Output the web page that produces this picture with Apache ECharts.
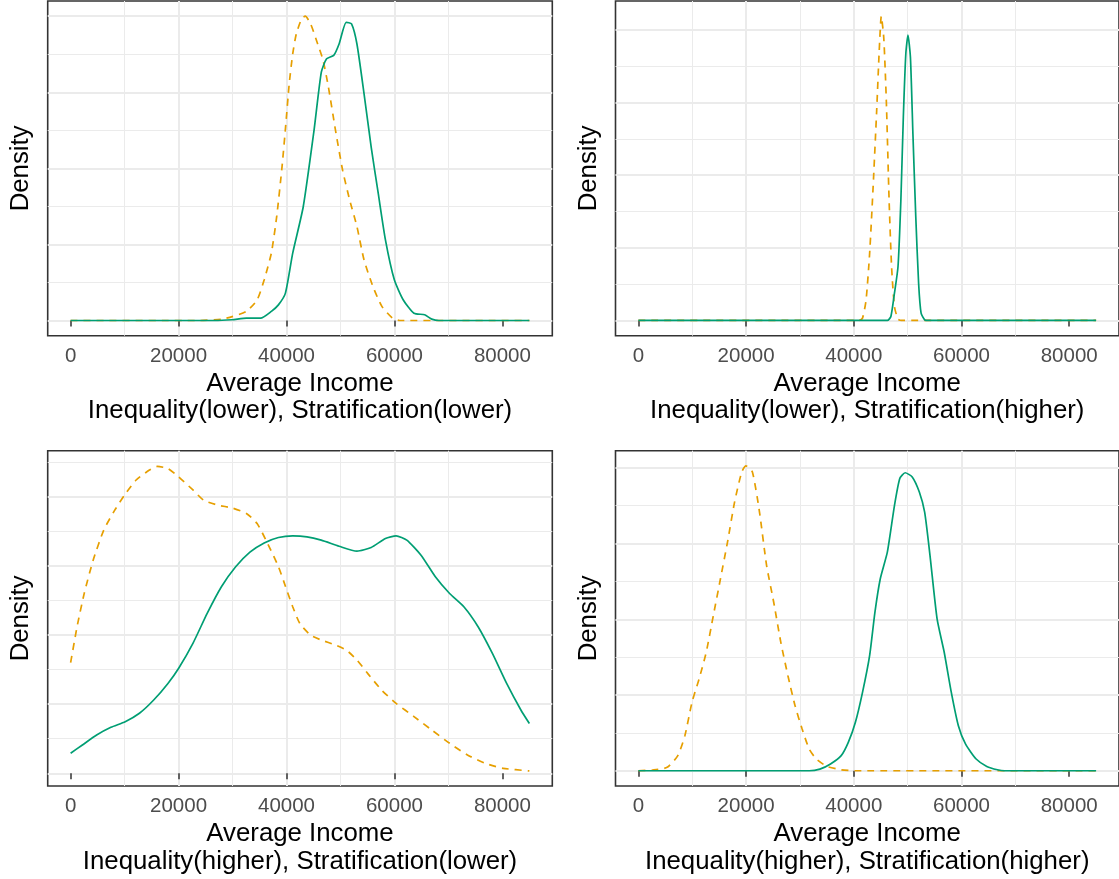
<!DOCTYPE html>
<html>
<head>
<meta charset="utf-8">
<script src="https://cdn.jsdelivr.net/npm/echarts@6/dist/echarts.min.js"></script>
<style>
  html, body { margin: 0; padding: 0; background: #fff; }
  #chart { width: 1119px; height: 879px; }
</style>
</head>
<body>
<div id="chart"></div>
<script>
// ---- data (density values in units of 1e-5) ----
const xTicks = [0, 20000, 40000, 60000, 80000];
const panelTitles = [
  'Inequality(lower), Stratification(lower)',
  'Inequality(lower), Stratification(higher)',
  'Inequality(higher), Stratification(lower)',
  'Inequality(higher), Stratification(higher)'
];
const yAxisName = 'Density';
const xAxisName = 'Average Income';

// panel 1
const p1Green = [[0,0],[26600,0],[29900,0.02],[32570,0.06],[35200,0.06],[37200,0.24],[38500,0.41],[39800,0.72],[41150,1.77],[43100,2.99],[45100,5.0],[46450,6.53],[47430,6.88],[48750,6.97],[49740,7.27],[51070,7.84],[52050,7.80],[53050,7.27],[54370,5.96],[55690,4.56],[57000,3.34],[58330,2.12],[59980,1.07],[61640,0.54],[63620,0.19],[65600,0.15],[66920,0.035],[68240,0],[85000,0]];
const p1Orange = [[0,0],[24000,0],[27940,0.035],[29930,0.1],[32570,0.24],[34550,0.54],[35870,1.07],[37190,1.77],[38180,2.73],[39170,4.04],[39830,5.09],[40500,6.22],[41150,7.01],[41810,7.53],[42800,7.93],[43470,8.0],[44460,7.80],[45780,7.27],[46780,6.84],[47760,6.14],[49080,5.0],[50400,3.95],[51720,3.16],[53050,2.47],[54370,1.59],[56020,0.89],[57670,0.37],[59650,0.06],[60970,0],[85000,0]];
// panel 2
const p2Green = [[0,0],[46230,0],[46890,0.55],[47550,3.75],[48210,7.4],[48740,16.5],[49200,28.0],[49660,36.7],[50060,39.3],[50520,36.2],[50980,25.7],[51510,14.3],[52040,5.1],[52500,1.0],[53160,0.09],[53820,0],[85000,0]];
const p2Orange = [[0,0],[40960,0],[41620,0.32],[42280,2.8],[42940,9.2],[43590,18.4],[44250,28.9],[44720,37.1],[45110,41.9],[45570,38.9],[46040,30.3],[46560,16.5],[47020,7.4],[47550,1.9],[48210,0.18],[48870,0],[85000,0]];
// panel 3
const p3Green = [[0,0.145],[2180,0.205],[4820,0.277],[7460,0.333],[10110,0.373],[12750,0.434],[15390,0.53],[18030,0.65],[20020,0.76],[22660,0.94],[25300,1.157],[27940,1.35],[30580,1.494],[33220,1.60],[35860,1.667],[38510,1.706],[41150,1.718],[43790,1.711],[46430,1.687],[49740,1.643],[53050,1.607],[55690,1.634],[58330,1.699],[60310,1.718],[62290,1.687],[64930,1.578],[67580,1.422],[70220,1.301],[72860,1.205],[75500,1.06],[78150,0.867],[80790,0.65],[83430,0.458],[85000,0.36]];
const p3Orange = [[0,0.80],[1190,1.06],[2510,1.30],[4160,1.54],[6140,1.76],[8120,1.90],[10110,2.02],[12090,2.12],[14070,2.18],[16050,2.22],[18030,2.205],[20020,2.145],[22660,2.05],[24640,1.976],[27280,1.94],[29920,1.92],[32570,1.88],[34550,1.807],[36530,1.66],[38510,1.494],[39830,1.35],[41150,1.205],[42470,1.084],[44460,1.0],[46430,0.964],[49080,0.928],[51060,0.892],[53050,0.82],[55030,0.723],[57670,0.60],[60310,0.506],[63620,0.41],[66920,0.313],[70220,0.217],[73520,0.133],[76830,0.072],[80130,0.036],[85000,0.017]];
// panel 4
const p4Green = [[0,0],[31730,0],[33700,0.044],[35680,0.18],[37660,0.40],[38980,0.75],[40300,1.28],[41620,2.07],[42940,3.04],[43930,4.19],[44920,5.07],[46240,5.78],[47560,7.01],[48540,7.72],[49530,7.87],[50850,7.76],[52170,7.36],[53160,6.83],[54150,5.69],[55470,4.01],[56790,3.13],[58110,2.07],[59420,1.19],[60740,0.71],[62720,0.31],[64700,0.115],[66680,0.026],[68000,0],[85000,0]];
const p4Orange = [[0,0],[2700,0.02],[5340,0.09],[7320,0.40],[8640,0.93],[9960,1.81],[11280,2.43],[12600,3.13],[13920,4.10],[15240,5.07],[16550,6.04],[17870,7.10],[19190,7.89],[19980,8.05],[21170,7.89],[22490,6.83],[23810,5.42],[25130,4.45],[26450,3.39],[27770,2.51],[29090,1.72],[30410,1.10],[31730,0.57],[33050,0.31],[35030,0.115],[37670,0.026],[40310,0],[85000,0]];

const greenSeries = [p1Green, p2Green, p3Green, p4Green];
const orangeSeries = [p1Orange, p2Orange, p3Orange, p4Orange];
// y ranges (with ggplot-like 5% expansion) and major grid step
const yRanges = [[-0.4, 8.4], [-2.1, 44.0], [-0.092, 2.334], [-0.4025, 8.4525]];
const yMajor = [2, 10, 0.5, 2];
const xRange = [-4250, 89250];

// ---- layout / style ----
const FONT = 'Liberation Sans, Arial, Helvetica, sans-serif';
const GREEN = '#009E73';
const ORANGE = '#E69F00';
const GRID_C = '#EBEBEB';
const FRAME_C = '#333333';

const gridBoxes = [
  { left: 47.7, top: 1, width: 504.6, height: 334.7 },
  { left: 615.5, top: 1, width: 505, height: 334.7 },
  { left: 47.7, top: 450.7, width: 504.6, height: 335.3 },
  { left: 615.5, top: 450.7, width: 505, height: 335.3 }
];

const grids = [], xAxes = [], yAxes = [], series = [];
for (let i = 0; i < 4; i++) {
  grids.push(Object.assign({
    show: true, borderColor: FRAME_C, borderWidth: 1.6, backgroundColor: 'transparent',
    containLabel: false
  }, gridBoxes[i]));
  xAxes.push({
    gridIndex: i, type: 'value', min: xRange[0], max: xRange[1],
    minInterval: 20000, maxInterval: 20000,
    axisLine: { show: false },
    axisTick: { show: true, length: 6, customValues: xTicks, lineStyle: { color: FRAME_C, width: 1.5 } },
    axisLabel: { show: true, customValues: xTicks, formatter: v => String(v), fontSize: 20.5,
      color: '#4D4D4D', margin: 10.3, fontFamily: FONT },
    splitLine: { show: true, showMinLine: false, showMaxLine: false, lineStyle: { color: GRID_C, width: 2 } },
    minorTick: { show: false, splitNumber: 2 },
    minorSplitLine: { show: true, lineStyle: { color: GRID_C, width: 1 } },
    name: xAxisName + '\n' + panelTitles[i], nameLocation: 'middle', nameGap: 34.3,
    nameTextStyle: { fontSize: 25.8, lineHeight: 27.5, color: '#000', fontFamily: FONT }
  });
  yAxes.push({
    gridIndex: i, type: 'value', min: yRanges[i][0], max: yRanges[i][1],
    minInterval: yMajor[i], maxInterval: yMajor[i],
    axisLine: { show: false }, axisTick: { show: false }, axisLabel: { show: false },
    splitLine: { show: true, showMinLine: false, showMaxLine: false, lineStyle: { color: GRID_C, width: 2 } },
    minorTick: { show: false, splitNumber: 2 },
    minorSplitLine: { show: true, lineStyle: { color: GRID_C, width: 1 } },
    name: yAxisName, nameLocation: 'middle', nameGap: 13.5,
    nameTextStyle: { fontSize: 25.8, color: '#000', fontFamily: FONT }
  });
  series.push({
    type: 'line', xAxisIndex: i, yAxisIndex: i, data: orangeSeries[i],
    showSymbol: false, smooth: 0.2, silent: true,
    lineStyle: { color: ORANGE, width: 1.7, type: [7, 6] }
  });
  series.push({
    type: 'line', xAxisIndex: i, yAxisIndex: i, data: greenSeries[i],
    showSymbol: false, smooth: 0.2, silent: true,
    lineStyle: { color: GREEN, width: 1.7, type: 'solid' }
  });
}

const chart = echarts.init(document.getElementById('chart'), null, { renderer: 'canvas' });
chart.setOption({
  animation: false,
  backgroundColor: '#ffffff',
  textStyle: { fontFamily: FONT },
  grid: grids, xAxis: xAxes, yAxis: yAxes, series: series
});
</script>
</body>
</html>
